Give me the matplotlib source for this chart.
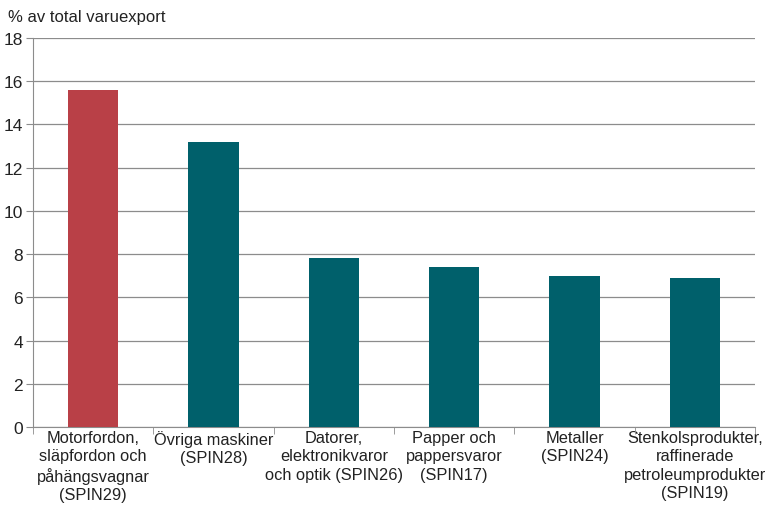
import matplotlib.pyplot as plt

plt.rcParams['font.family'] = ['Liberation Sans', 'DejaVu Sans']

categories = [
    "Motorfordon,\nsläpfordon och\npåhängsvagnar\n(SPIN29)",
    "Övriga maskiner\n(SPIN28)",
    "Datorer,\nelektronikvaror\noch optik (SPIN26)",
    "Papper och\npappersvaror\n(SPIN17)",
    "Metaller\n(SPIN24)",
    "Stenkolsprodukter,\nraffinerade\npetroleumprodukter\n(SPIN19)",
]
values = [15.6, 13.2, 7.8, 7.4, 7.0, 6.9]
colors = ["#B94047", "#00606B", "#00606B", "#00606B", "#00606B", "#00606B"]

fig = plt.figure(figsize=(7.65, 5.06), dpi=100)
ax = fig.add_axes([0.043, 0.154, 0.944, 0.769])

x = list(range(len(values)))
ax.bar(x, values, width=0.42, color=colors, zorder=3)

ax.set_xlim(-0.5, len(values) - 0.5)
ax.set_ylim(0, 18)
ax.set_yticks(range(0, 19, 2))
ax.yaxis.grid(True, color="#8c8c8c", linewidth=0.9, zorder=0)

ax.set_xticks(x)
ax.set_xticklabels(categories, fontsize=11.8, linespacing=1.28, color="#222222")
ax.tick_params(axis="x", length=0, pad=2)
ax.set_xticks([i + 0.5 for i in range(-1, len(values))], minor=True)
ax.tick_params(axis="x", which="minor", length=5, color="#8c8c8c")
ax.tick_params(axis="y", length=5, color="#8c8c8c", labelsize=12.5, labelcolor="#222222", pad=2)

for s in ["top", "right"]:
    ax.spines[s].set_visible(False)
for s in ["left", "bottom"]:
    ax.spines[s].set_color("#8c8c8c")

fig.text(0.01, 0.965, "% av total varuexport", fontsize=12, color="#222222", va="center")

fig.savefig("out.png", dpi=100)
